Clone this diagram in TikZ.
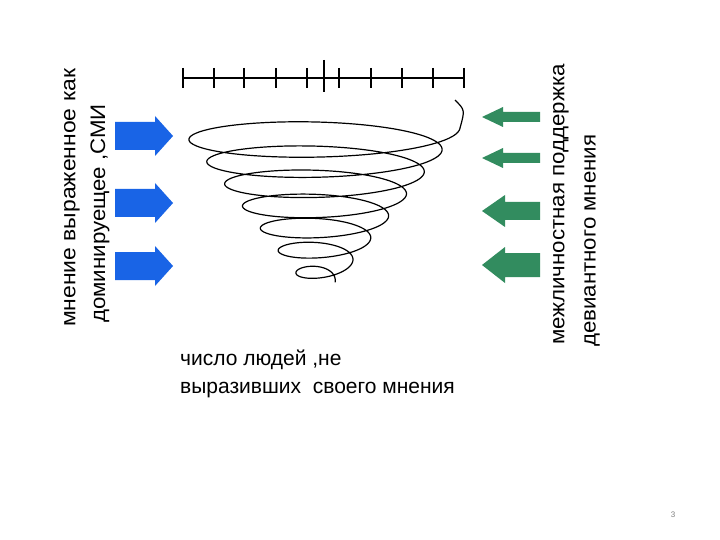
\documentclass[tikz,border=0pt]{standalone}
\usepackage{fontspec}
\setmainfont{Liberation Sans}
\definecolor{blu}{RGB}{25,100,230}
\definecolor{grn}{RGB}{50,140,95}
\newcommand{\rarrow}[5]{%
\fill[blu] (#1,#4-#5) -- (#2,#4-#5) -- (#2,#4-20) -- (#3,#4) -- (#2,#4+20) -- (#2,#4+#5) -- (#1,#4+#5) -- cycle;}
\newcommand{\larrow}[4]{%
\fill[grn] (540,#1-#2) -- (#4,#1-#2) -- (#4,#1-#3) -- (482,#1) -- (#4,#1+#3) -- (#4,#1+#2) -- (540,#1+#2) -- cycle;}
\begin{document}
\begin{tikzpicture}[x=1pt,y=-1pt,
  lab/.style={font=\fontsize{21}{24}\selectfont,inner sep=0pt},
  vlab/.style={font=\fontsize{21}{24}\selectfont,inner sep=0pt,rotate=90,anchor=west}]
\useasboundingbox[fill=white] (0,0) rectangle (720,540);
% scale
\draw[line width=1.6pt] (183,78) -- (465,78);
\foreach \x in {183,214,244,276,307,339,371,402,433,464}
  \draw[line width=1.6pt] (\x,68) -- (\x,88);
\draw[line width=1.6pt] (324,60) -- (324,92);
% spiral
\draw[line width=1.2pt,smooth,samples=600,domain=0:7,variable=\t]
  plot ({320 + (140-125*\t/7)*cos(360*\t)}, {128 + 155*\t/7 + (24-14*\t/7)*sin(360*\t)});
\draw[line width=1.2pt] (460,128) .. controls (465,110) .. (455,100);
% blue arrows
\rarrow{115}{155}{173}{136}{14}
\rarrow{115}{155}{173}{203}{14}
\rarrow{115}{155}{173}{266}{14}
% green arrows
\larrow{117}{5}{10}{503}
\larrow{158}{5}{10}{503}
\larrow{211}{9}{16}{505}
\larrow{265}{12}{18}{505}
% texts
\node[vlab,xscale=1.09] (l1) at (72,327) {мнение выраженное как};
\node[vlab,xscale=1.06] (l2) at (100,323) {доминируещее ,СМИ};
\node[vlab,xscale=1.06] (r1) at (561,345) {межличностная поддержка};
\node[vlab,xscale=1.06] (r2) at (592,347) {девиантного мнения};
\node[lab,anchor=west] (b1) at (180,360) {число людей ,не};
\node[lab,anchor=west] (b2) at (180,390) {выразивших\ \ своего мнения};
\node[font=\fontsize{8}{9}\selectfont,text=gray] (pg) at (673,515) {3};
\end{tikzpicture}
\end{document}
